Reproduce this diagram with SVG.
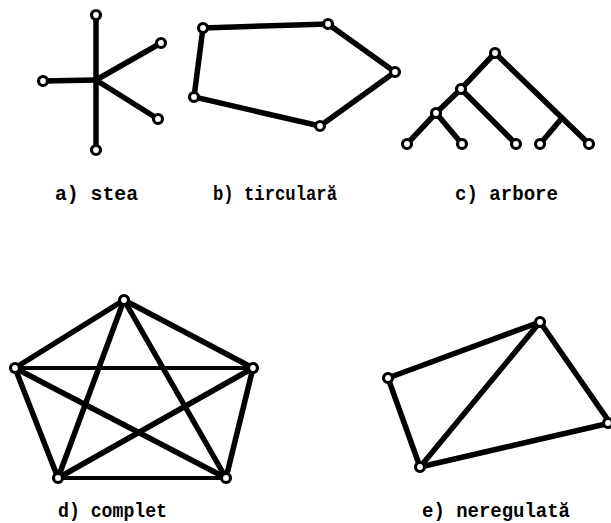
<svg xmlns="http://www.w3.org/2000/svg" width="611" height="523" viewBox="0 0 611 523">
<style>
.e{stroke:#000;stroke-width:5.5;stroke-linecap:round;fill:none}
.thin{stroke-width:4}
.n{fill:#fff;stroke:#000;stroke-width:3.2}
.lbl{font-family:"Liberation Mono","DejaVu Sans Mono",monospace;font-weight:bold;font-size:20px;fill:#000}
</style>
<rect width="611" height="523" fill="#fff"/>
<g id="connectors">
<!-- a) star -->
<line class="e" x1="96" y1="15" x2="96" y2="150"/>
<line class="e" x1="43" y1="81" x2="96" y2="80"/>
<line class="e" x1="96" y1="80" x2="161" y2="43"/>
<line class="e" x1="96" y1="80" x2="158" y2="119"/>
<!-- b) ring -->
<polygon class="e" points="203,28 328,24 395,72 320,126 194,97"/>
<!-- c) tree -->
<polyline class="e" points="495,53 461,89 436,113 407,144"/>
<line class="e" x1="436" y1="113" x2="462" y2="144"/>
<line class="e" x1="461" y1="89" x2="516" y2="144"/>
<line class="e" x1="495" y1="53" x2="589" y2="144"/>
<line class="e" x1="562" y1="118" x2="540" y2="144"/>
<!-- d) complete -->
<line class="e" x1="124" y1="300" x2="15" y2="368"/>
<line class="e" x1="124" y1="300" x2="253" y2="368"/>
<line class="e" x1="124" y1="300" x2="58" y2="478"/>
<line class="e" x1="124" y1="300" x2="226" y2="478"/>
<line class="e thin" x1="15" y1="368" x2="253" y2="368"/>
<line class="e" x1="15" y1="368" x2="58" y2="478"/>
<line class="e" x1="15" y1="368" x2="226" y2="478"/>
<line class="e" x1="253" y1="368" x2="58" y2="478"/>
<line class="e" x1="253" y1="368" x2="226" y2="478"/>
<line class="e thin" x1="58" y1="478" x2="226" y2="478"/>
<!-- e) irregular -->
<line class="e" x1="388" y1="378" x2="540" y2="322"/>
<line class="e" x1="540" y1="322" x2="610" y2="423"/>
<line class="e" x1="610" y1="423" x2="420" y2="467"/>
<line class="e" x1="420" y1="467" x2="388" y2="378"/>
<line class="e" x1="420" y1="467" x2="540" y2="322"/>
</g>
<g id="star">
<g id="a-top"><circle class="n" cx="96" cy="15" r="4.5"/></g>
<g id="a-left"><circle class="n" cx="43" cy="81" r="4.5"/></g>
<g id="a-upright"><circle class="n" cx="161" cy="43" r="4.5"/></g>
<g id="a-downright"><circle class="n" cx="158" cy="119" r="4.5"/></g>
<g id="a-bottom"><circle class="n" cx="96" cy="150" r="4.5"/></g>
</g>
<g id="ring">
<g id="b-1"><circle class="n" cx="203" cy="28" r="4.5"/></g>
<g id="b-2"><circle class="n" cx="328" cy="24" r="4.5"/></g>
<g id="b-3"><circle class="n" cx="395" cy="72" r="4.5"/></g>
<g id="b-4"><circle class="n" cx="320" cy="126" r="4.5"/></g>
<g id="b-5"><circle class="n" cx="194" cy="97" r="4.5"/></g>
</g>
<g id="tree">
<g id="c-root"><circle class="n" cx="495" cy="53" r="4.5"/></g>
<g id="c-l2"><circle class="n" cx="461" cy="89" r="4.5"/></g>
<g id="c-l3"><circle class="n" cx="436" cy="113" r="4.5"/></g>
<g id="c-leaf1"><circle class="n" cx="407" cy="144" r="4.5"/></g>
<g id="c-leaf2"><circle class="n" cx="462" cy="144" r="4.5"/></g>
<g id="c-leaf3"><circle class="n" cx="516" cy="144" r="4.5"/></g>
<g id="c-leaf4"><circle class="n" cx="540" cy="144" r="4.5"/></g>
<g id="c-leaf5"><circle class="n" cx="589" cy="144" r="4.5"/></g>
</g>
<g id="complete">
<g id="d-top"><circle class="n" cx="124" cy="300" r="4.5"/></g>
<g id="d-left"><circle class="n" cx="15" cy="368" r="4.5"/></g>
<g id="d-right"><circle class="n" cx="253" cy="368" r="4.5"/></g>
<g id="d-bl"><circle class="n" cx="58" cy="478" r="4.5"/></g>
<g id="d-br"><circle class="n" cx="226" cy="478" r="4.5"/></g>
</g>
<g id="irregular">
<g id="e-1"><circle class="n" cx="388" cy="378" r="4.5"/></g>
<g id="e-2"><circle class="n" cx="540" cy="322" r="4.5"/></g>
<g id="e-3"><circle class="n" cx="608" cy="423" r="4.5"/></g>
<g id="e-4"><circle class="n" cx="420" cy="467" r="4.5"/></g>
</g>
<g id="labels">
<text class="lbl" x="55" y="200" textLength="83" lengthAdjust="spacingAndGlyphs">a) stea</text>
<text class="lbl" x="213" y="200" textLength="124" lengthAdjust="spacingAndGlyphs">b) tirculară</text>
<text class="lbl" x="455" y="200" textLength="103" lengthAdjust="spacingAndGlyphs">c) arbore</text>
<text class="lbl" x="58" y="517" textLength="109" lengthAdjust="spacingAndGlyphs">d) complet</text>
<text class="lbl" x="422" y="517" textLength="148" lengthAdjust="spacingAndGlyphs">e) neregulată</text>
</g>
</svg>
